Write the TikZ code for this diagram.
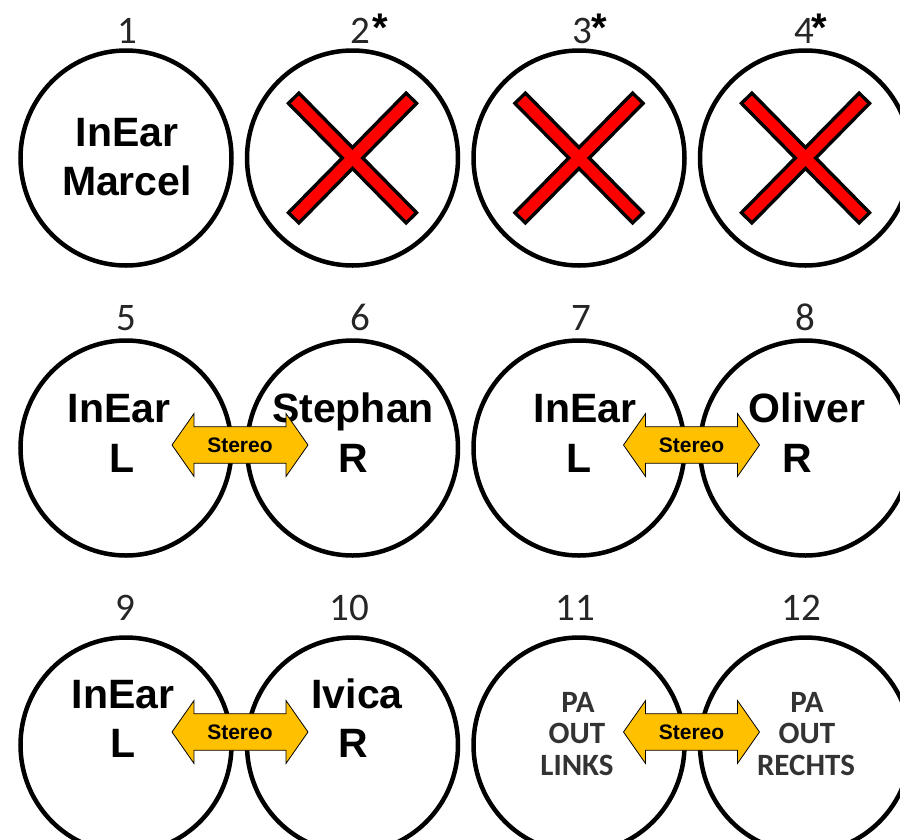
\documentclass[tikz,border=0pt]{standalone}
\usepackage{fontspec}
\setmainfont{Liberation Sans}
\newfontfamily\numfont{Carlito}
\usetikzlibrary{shapes.geometric,shapes.arrows}
\definecolor{stereogold}{HTML}{FFC000}
\definecolor{crossred}{HTML}{FF0000}
\definecolor{pagray}{HTML}{333333}
\tikzset{
  socket/.style={ellipse,draw=black,line width=4.5pt,minimum width=211pt,minimum height=215pt,inner sep=0pt},
  chnum/.style={anchor=base,text=black!85,font=\numfont\fontsize{39}{39}\selectfont},
  ast/.style={anchor=base,font=\bfseries\fontsize{40}{40}\selectfont},
  who/.style={anchor=base,font=\bfseries\fontsize{41}{41}\selectfont},
  pa/.style={anchor=base,text=pagray,font=\numfont\bfseries\fontsize{31}{31}\selectfont},
  stereo/.style={double arrow,draw=black,line width=0.8pt,fill=stereogold,inner xsep=0pt,inner ysep=10.5pt,
    minimum height=136pt,minimum width=0pt,double arrow head extend=13pt,
    double arrow tip angle=110,font=\bfseries\fontsize{21}{21}\selectfont},
  xedge/.style={line width=18pt,black},
  xfill/.style={line width=11pt,crossred,shorten <=3.5pt,shorten >=3.5pt}
}
\begin{document}
\begin{tikzpicture}[x=1pt,y=-1pt]
\useasboundingbox (0,0) rectangle (900,839);
% sockets, 3 rows of 4
\foreach \n/\x/\y in {1/126/158,2/352.5/158,3/579/158,4/805.5/158,
  5/126/448,6/352.5/448,7/579/448,8/805.5/448,
  9/126/745,10/352.5/745,11/579/745,12/805.5/745}
\node[socket] (c\n) at (\x,\y) {};
% channel numbers
\foreach \n/\x/\y in {1/127/43,2/360/43,3/582/43,4/804/43,
  5/126/330,6/360/330,7/581/330,8/805/330,
  9/125/620,10/349/620,11/575/620,12/801/620}
\node[chnum] (n\n) at (\x,\y) {\n};
\foreach \n/\x in {2/380,3/599,4/819}
\node[ast] (a\n) at (\x,41) {*};
% unused channels
\foreach \x in {352.5,579,805.5}{
\draw[xedge] (\x-60,97) -- (\x+60,219);
\draw[xedge] (\x+60,97) -- (\x-60,219);
\draw[xfill] (\x-60,97) -- (\x+60,219);
\draw[xfill] (\x+60,97) -- (\x-60,219);}
% names
\foreach \x/\y/\t [count=\i] in {127/146/InEar,127/195/Marcel,
  119/422/InEar,122/472/L,353/422/Stephan,353/472/R,
  585/422/InEar,579/472/L,807/422/Oliver,797/472/R,
  123/708/InEar,123/757/L,357/708/Ivica,353/757/R}
\node[who] (w\i) at (\x,\y) {\t};
\foreach \x/\y/\t [count=\i] in {578/712/PA,577/743/OUT,577/775/LINKS,
  807/712/PA,807/743/OUT,806/775/RECHTS}
\node[pa] (p\i) at (\x,\y) {\t};
% stereo pairs
\foreach \a/\x/\y in {5/240/445,7/691.5/445,9/240/732,11/691.5/732}
\node[stereo] (s\a) at (\x,\y) {Stereo};
\end{tikzpicture}
\end{document}
